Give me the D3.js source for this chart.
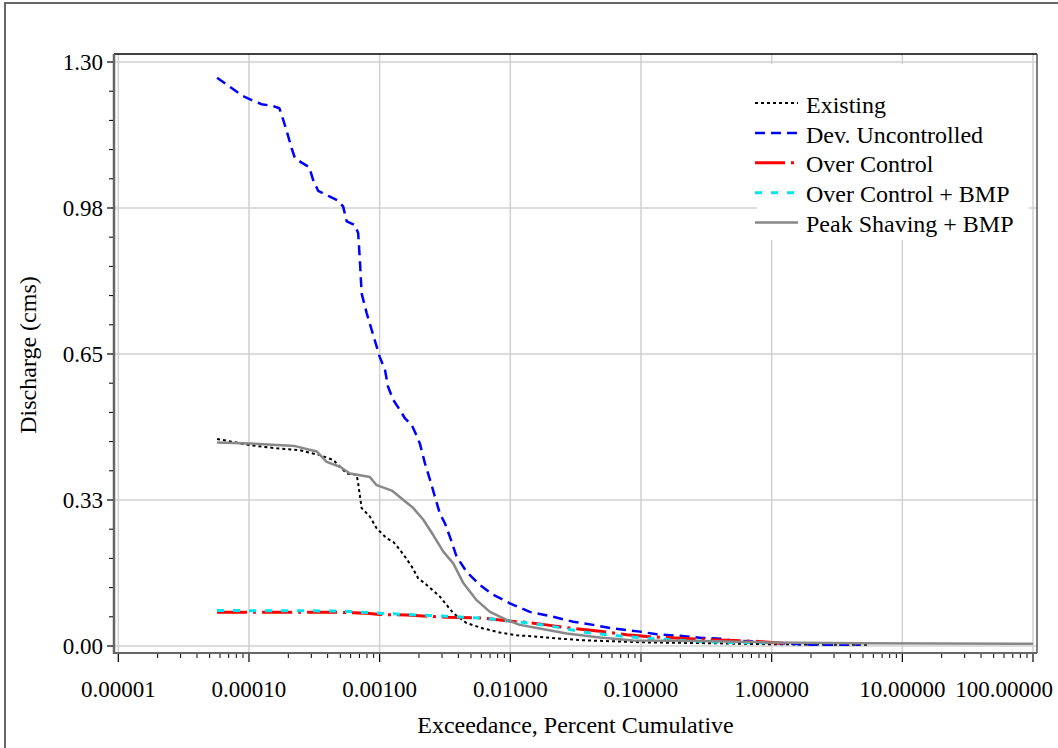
<!DOCTYPE html>
<html>
<head>
<meta charset="utf-8">
<script src="https://cdn.jsdelivr.net/npm/d3@7"></script>
<style>
  body { margin: 0; background: #fff; }
  svg text { font-family: "Liberation Serif", "Times New Roman", serif; fill: #000; }
</style>
</head>
<body>
<div id="chart"></div>
<script>
// exceedance (percent) , discharge (cms)
const existing = [
  [5.7e-5, 0.461], [1.02e-4, 0.447], [1.63e-4, 0.440], [2.45e-4, 0.436], [2.93e-4, 0.430],
  [3.49e-4, 0.425], [4.42e-4, 0.414], [4.97e-4, 0.399], [5.60e-4, 0.384], [6.67e-4, 0.381],
  [6.85e-4, 0.362], [7.28e-4, 0.307], [8.43e-4, 0.288], [9.48e-4, 0.262], [1.13e-3, 0.240],
  [1.27e-3, 0.232], [1.43e-3, 0.214], [1.56e-3, 0.199], [1.76e-3, 0.177], [1.97e-3, 0.151],
  [2.29e-3, 0.136], [2.89e-3, 0.110], [3.66e-3, 0.073], [4.63e-3, 0.051], [6.21e-3, 0.039],
  [8.32e-3, 0.030], [1.12e-2, 0.024], [1.89e-2, 0.019], [3.41e-2, 0.013], [0.111, 0.008],
  [0.380, 0.006], [0.918, 0.004], [2.94, 0.003], [5.64, 0.003]
];
const devUncontrolled = [
  [5.7e-5, 1.265], [9.0e-5, 1.224], [1.05e-4, 1.215], [1.25e-4, 1.206], [1.53e-4, 1.202],
  [1.71e-4, 1.197], [1.83e-4, 1.171], [2.0e-4, 1.134], [2.12e-4, 1.108], [2.25e-4, 1.086],
  [2.53e-4, 1.076], [2.89e-4, 1.066], [3.10e-4, 1.037], [3.39e-4, 1.013], [4.05e-4, 1.002],
  [4.82e-4, 0.991], [5.26e-4, 0.978], [5.60e-4, 0.945], [6.47e-4, 0.937], [6.85e-4, 0.919],
  [7.06e-4, 0.859], [7.28e-4, 0.785], [7.96e-4, 0.741], [1.0e-3, 0.644], [1.10e-3, 0.614],
  [1.16e-3, 0.577], [1.27e-3, 0.548], [1.43e-3, 0.525], [1.56e-3, 0.507], [1.76e-3, 0.492],
  [1.86e-3, 0.477], [2.03e-3, 0.451], [2.22e-3, 0.407], [2.43e-3, 0.370], [2.65e-3, 0.332],
  [2.89e-3, 0.295], [3.16e-3, 0.273], [3.45e-3, 0.243], [3.88e-3, 0.199], [4.63e-3, 0.165],
  [5.85e-3, 0.136], [7.40e-3, 0.114], [9.93e-3, 0.095], [1.41e-2, 0.076], [2.13e-2, 0.065],
  [3.03e-2, 0.054], [4.31e-2, 0.047], [6.12e-2, 0.039], [9.82e-2, 0.032], [0.132, 0.026],
  [0.191, 0.023], [0.292, 0.018], [0.423, 0.016], [0.505, 0.012], [0.718, 0.010],
  [1.16, 0.006], [2.07, 0.003], [4.73, 0.003]
];
const overControl = [
  [5.7e-5, 0.075], [4.97e-4, 0.075], [7.96e-4, 0.073], [1.0e-3, 0.070], [1.61e-3, 0.069],
  [3.26e-3, 0.064], [6.21e-3, 0.062], [9.38e-3, 0.056], [1.41e-2, 0.052], [1.89e-2, 0.047],
  [3.03e-2, 0.039], [4.85e-2, 0.033], [7.76e-2, 0.025], [0.111, 0.021], [0.237, 0.016],
  [0.505, 0.012], [0.718, 0.011], [1.22, 0.006]
];
const overControlBmp = [
  [5.7e-5, 0.079], [4.97e-4, 0.078], [1.0e-3, 0.073], [3.26e-3, 0.066], [6.21e-3, 0.062],
  [1.05e-2, 0.055], [1.89e-2, 0.046], [3.84e-2, 0.030], [5.1e-2, 0.026], [0.111, 0.017],
  [0.188, 0.013], [0.423, 0.008], [0.9, 0.007]
];
const peakShaving = [
  [5.7e-5, 0.453], [1.02e-4, 0.451], [2.25e-4, 0.445], [3.30e-4, 0.433], [3.93e-4, 0.410],
  [4.97e-4, 0.399], [5.93e-4, 0.384], [8.43e-4, 0.376], [9.48e-4, 0.358], [1.24e-3, 0.346],
  [1.52e-3, 0.325], [1.81e-3, 0.307], [2.16e-3, 0.281], [2.57e-3, 0.247], [3.07e-3, 0.210],
  [3.66e-3, 0.184], [4.37e-3, 0.140], [5.52e-3, 0.102], [6.98e-3, 0.076], [9.38e-3, 0.058],
  [1.18e-2, 0.047], [1.68e-2, 0.039], [2.70e-2, 0.028], [4.85e-2, 0.019], [8.67e-2, 0.012],
  [0.283, 0.011], [0.918, 0.008], [4.73, 0.006], [100, 0.005]
];

const xTicks = [1e-5, 1e-4, 1e-3, 1e-2, 1e-1, 1, 10, 100];
const xTickLabels = ["0.00001", "0.00010", "0.00100", "0.01000", "0.10000", "1.00000", "10.00000", "100.00000"];
const yTicks = [0, 0.325, 0.65, 0.975, 1.3];
const yTickLabels = ["0.00", "0.33", "0.65", "0.98", "1.30"];

const series = [
  { name: "Existing", data: existing, color: "#000000", width: 2, dash: "3,3" },
  { name: "Dev. Uncontrolled", data: devUncontrolled, color: "#0000ff", width: 2.5, dash: "10,6" },
  { name: "Over Control", data: overControl, color: "#ff0000", width: 3, dash: "30,6,3,6" },
  { name: "Over Control + BMP", data: overControlBmp, color: "#00e5ee", width: 3, dash: "7,9" },
  { name: "Peak Shaving + BMP", data: peakShaving, color: "#888888", width: 2.5, dash: null }
];

const width = 1058, height = 748;
const frame = { left: 114, right: 1037, top: 54, bottom: 653 };

const svg = d3.select("#chart").append("svg")
  .attr("width", width)
  .attr("height", height);

// outer border
svg.append("rect")
  .attr("x", 5).attr("y", 3)
  .attr("width", 1200).attr("height", 900)
  .attr("fill", "none")
  .attr("stroke", "#666")
  .attr("stroke-width", 2);

const x = d3.scaleLog().domain([1e-5, 100]).range([118.3, 1033]);
const y = d3.scaleLinear().domain([0, 1.3]).range([646, 62]);

// grid
svg.append("g").selectAll("line")
  .data(xTicks)
  .join("line")
  .attr("x1", d => x(d)).attr("x2", d => x(d))
  .attr("y1", frame.top).attr("y2", frame.bottom)
  .attr("stroke", "#d0d0d0").attr("stroke-width", 1.5);

svg.append("g").selectAll("line")
  .data(yTicks)
  .join("line")
  .attr("x1", frame.left).attr("x2", frame.right)
  .attr("y1", d => y(d)).attr("y2", d => y(d))
  .attr("stroke", "#d0d0d0").attr("stroke-width", 1.5);

// legend box covers grid
svg.append("rect")
  .attr("x", 757).attr("y", 64)
  .attr("width", 272).attr("height", 176)
  .attr("fill", "#fff");

// lines
const line = d3.line()
  .x(d => x(d[0]))
  .y(d => y(d[1]));

series.forEach(s => {
  svg.append("path")
    .datum(s.data)
    .attr("d", line)
    .attr("fill", "none")
    .attr("stroke", s.color)
    .attr("stroke-width", s.width)
    .attr("stroke-dasharray", s.dash)
    .attr("stroke-linejoin", "round");
});

// frame
svg.append("line")
  .attr("x1", frame.left).attr("x2", frame.right)
  .attr("y1", frame.top).attr("y2", frame.top)
  .attr("stroke", "#000").attr("stroke-width", 1.5);
svg.append("line")
  .attr("x1", frame.right).attr("x2", frame.right)
  .attr("y1", frame.top).attr("y2", frame.bottom)
  .attr("stroke", "#555").attr("stroke-width", 1.5);

// x axis
const xMinor = [];
for (let e = -5; e < 2; e++) {
  for (let m = 2; m <= 9; m++) xMinor.push(m * Math.pow(10, e));
}

const gx = svg.append("g").attr("transform", `translate(0,${frame.bottom})`);
gx.append("line")
  .attr("x1", frame.left).attr("x2", frame.right)
  .attr("stroke", "#666").attr("stroke-width", 2);
gx.selectAll(".minor").data(xMinor).join("line")
  .attr("class", "minor")
  .attr("x1", d => x(d)).attr("x2", d => x(d))
  .attr("y1", 1).attr("y2", 5)
  .attr("stroke", "#000").attr("stroke-width", 1);
gx.selectAll(".major").data(xTicks).join("line")
  .attr("class", "major")
  .attr("x1", d => x(d)).attr("x2", d => x(d))
  .attr("y1", 1).attr("y2", 9)
  .attr("stroke", "#000").attr("stroke-width", 1.2);
// last label is pulled inside the page edge
gx.selectAll("text").data(xTicks).join("text")
  .attr("x", (d, i) => i === xTicks.length - 1 ? width - 5 : x(d))
  .attr("y", 36)
  .attr("dy", "0.35em")
  .attr("text-anchor", (d, i) => i === xTicks.length - 1 ? "end" : "middle")
  .attr("font-size", "23px")
  .text((d, i) => xTickLabels[i]);

// y axis
const yMinor = d3.range(0, 1.3001, 0.065).filter(v => !yTicks.some(t => Math.abs(t - v) < 1e-6));

const gy = svg.append("g").attr("transform", `translate(${frame.left},0)`);
gy.append("line")
  .attr("y1", frame.top).attr("y2", frame.bottom + 1)
  .attr("stroke", "#666").attr("stroke-width", 2.5);
gy.selectAll(".minor").data(yMinor).join("line")
  .attr("class", "minor")
  .attr("x1", -1).attr("x2", -5)
  .attr("y1", d => y(d)).attr("y2", d => y(d))
  .attr("stroke", "#000").attr("stroke-width", 1);
gy.selectAll(".major").data(yTicks).join("line")
  .attr("class", "major")
  .attr("x1", -1).attr("x2", -7)
  .attr("y1", d => y(d)).attr("y2", d => y(d))
  .attr("stroke", "#000").attr("stroke-width", 1.2);
gy.selectAll("text").data(yTicks).join("text")
  .attr("x", -11)
  .attr("y", d => y(d))
  .attr("dy", "0.35em")
  .attr("text-anchor", "end")
  .attr("font-size", "23px")
  .text((d, i) => yTickLabels[i]);

// axis titles
svg.append("text")
  .attr("x", (frame.left + frame.right) / 2)
  .attr("y", 733)
  .attr("text-anchor", "middle")
  .attr("font-size", "24px")
  .text("Exceedance, Percent Cumulative");

svg.append("text")
  .attr("transform", "translate(36,355) rotate(-90)")
  .attr("text-anchor", "middle")
  .attr("font-size", "24px")
  .text("Discharge (cms)");

// legend
const legend = svg.append("g").attr("transform", "translate(755,103)");
series.forEach((s, i) => {
  const row = legend.append("g").attr("transform", `translate(0,${i * 29.9})`);
  row.append("line")
    .attr("x1", 0).attr("x2", 43)
    .attr("stroke", s.color)
    .attr("stroke-width", s.width)
    .attr("stroke-dasharray", s.dash);
  row.append("text")
    .attr("x", 51)
    .attr("y", 0)
    .attr("dy", "0.4em")
    .attr("font-size", "24px")
    .text(s.name);
});
</script>
</body>
</html>
